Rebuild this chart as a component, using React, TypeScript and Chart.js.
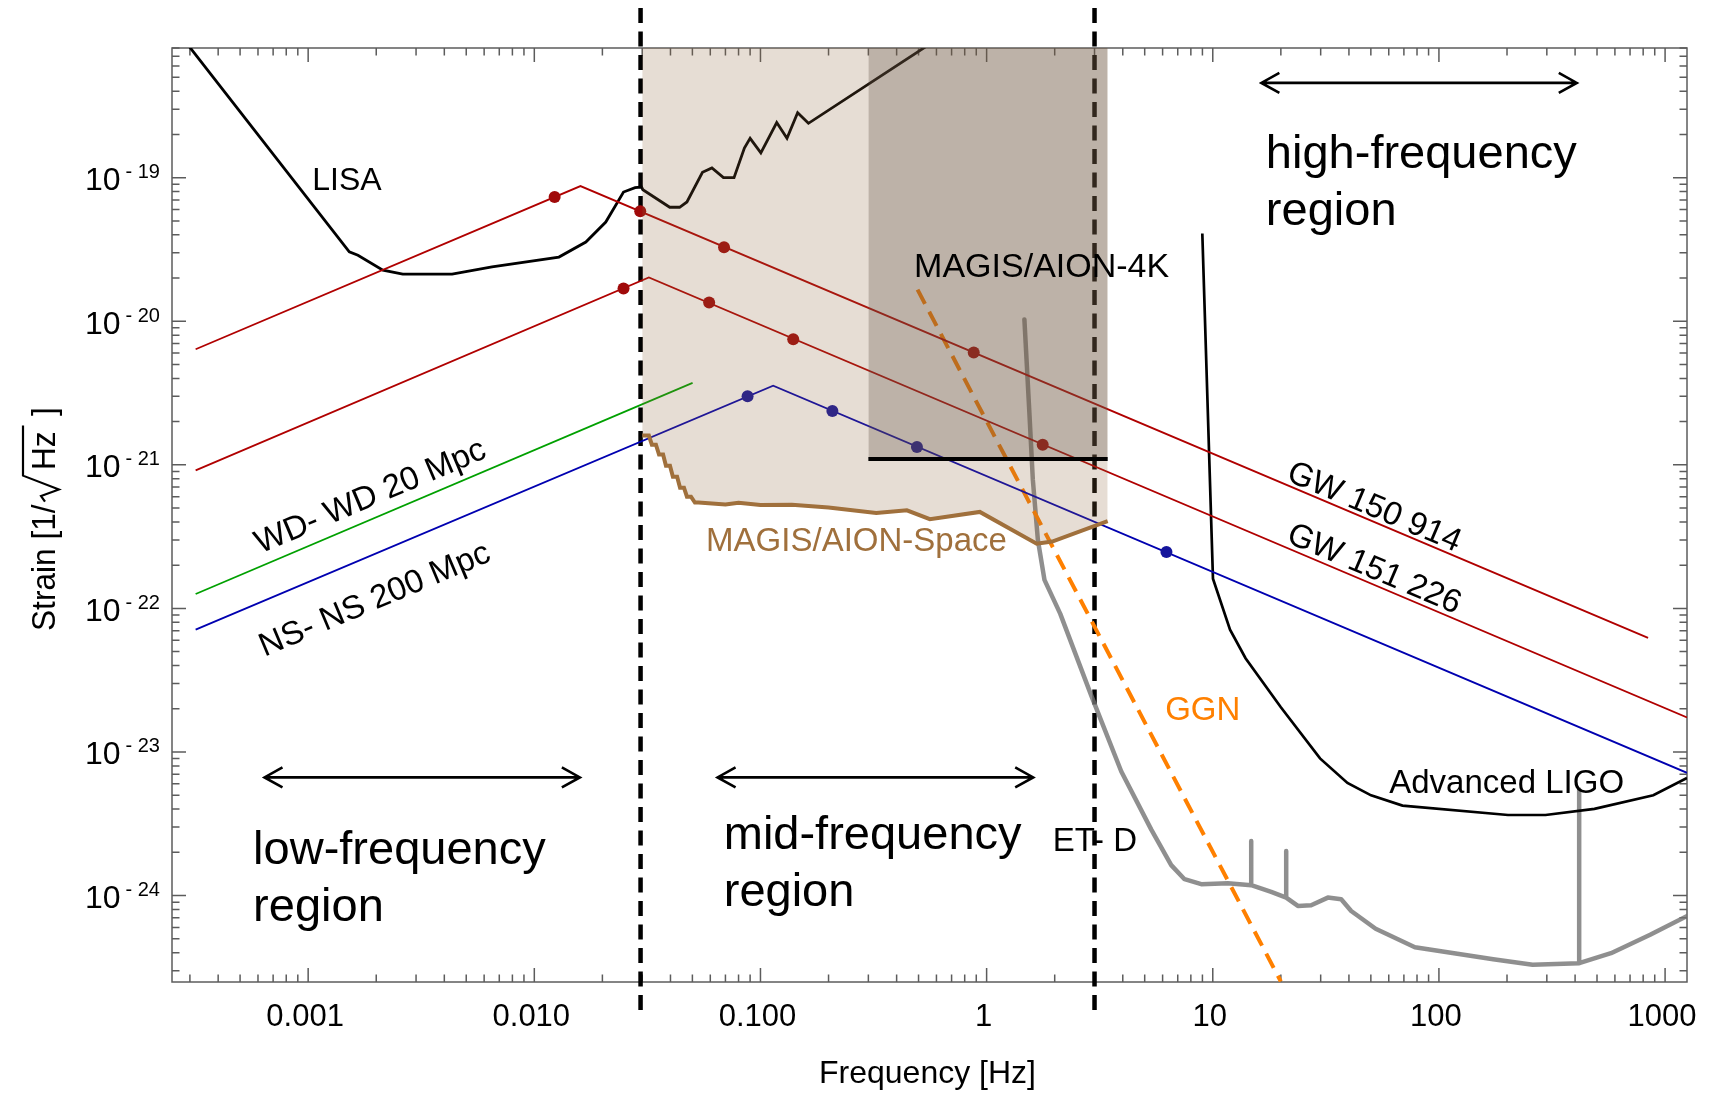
import React, { useEffect, useRef } from 'react';
import { Chart, registerables } from 'chart.js';

Chart.register(...registerables);

type Pt = [number, number];

// ---------- axes ----------
const frequencyRange: Pt = [2.5e-4, 1250];
const strainRange: Pt = [2.5e-25, 8e-19];
const frequencyTicks = [0.001, 0.01, 0.1, 1, 10, 100, 1000];
const frequencyTickLabels = ['0.001', '0.010', '0.100', '1', '10', '100', '1000'];
const strainTickExponents = [-19, -20, -21, -22, -23, -24];

// ---------- detector sensitivity curves ----------
const lisaCurve: Pt[] = [
  [2.96e-4, 8.3e-19], [1.52e-3, 3.04e-20], [1.66e-3, 2.88e-20], [2.14e-3, 2.27e-20],
  [2.62e-3, 2.13e-20], [4.33e-3, 2.13e-20], [6.5e-3, 2.39e-20], [0.01285, 2.8e-20],
  [0.0169, 3.56e-20], [0.0207, 4.91e-20], [0.0248, 7.94e-20], [0.0279, 8.53e-20],
  [0.0298, 8.6e-20], [0.0302, 8.24e-20], [0.0397, 6.22e-20], [0.0439, 6.22e-20],
  [0.0473, 6.77e-20], [0.0554, 1.09e-19], [0.061, 1.17e-19], [0.0686, 1.0e-19],
  [0.0764, 1.0e-19], [0.0849, 1.61e-19], [0.09, 1.88e-19], [0.1004, 1.49e-19],
  [0.118, 2.42e-19], [0.131, 1.88e-19], [0.146, 2.83e-19], [0.163, 2.39e-19],
  [0.54, 8.2e-19],
];

const advancedLigoCurve: Pt[] = [
  [8.99, 4.08e-20], [10.02, 1.61e-22], [11.92, 7.11e-23], [13.96, 4.5e-23],
  [20.0, 2.05e-23], [29.8, 9.02e-24], [39.4, 6.08e-24], [50.1, 4.99e-24],
  [69.0, 4.23e-24], [202, 3.64e-24], [296, 3.64e-24], [487, 4.02e-24],
  [887, 4.99e-24], [1250, 6.59e-24],
];

const etDCurve: Pt[] = [
  [1.469, 1.03e-20], [1.546, 2.28e-21], [1.601, 7.85e-22], [1.685, 3.0e-22],
  [1.802, 1.58e-22], [2.115, 9.2e-23], [2.9, 2.48e-23], [3.94, 7.31e-24],
  [5.34, 2.89e-24], [6.55, 1.63e-24], [7.5, 1.3e-24], [8.89, 1.2e-24],
  [11.66, 1.22e-24], [14.79, 1.18e-24], [14.79, 2.4e-24], [14.79, 1.18e-24],
  [18.13, 1.06e-24], [21.12, 9.68e-25], [21.12, 2.04e-24], [21.12, 9.68e-25],
  [23.78, 8.47e-25], [27.23, 8.56e-25], [32.28, 9.68e-25], [36.97, 9.42e-25],
  [40.93, 7.81e-25], [52.5, 5.87e-25], [78.3, 4.37e-25], [173.8, 3.6e-25],
  [259.5, 3.3e-25], [417, 3.38e-25], [417, 5.47e-24], [417, 3.38e-25],
  [576.6, 3.97e-25], [859, 5.33e-25], [1259, 7.24e-25],
];

const magisSpaceCurve: Pt[] = [
  [0.03, 1.6e-21], [0.0321, 1.6e-21], [0.0331, 1.38e-21], [0.0345, 1.38e-21],
  [0.0356, 1.18e-21], [0.0371, 1.18e-21], [0.0382, 9.86e-22], [0.0398, 9.86e-22],
  [0.041, 8.26e-22], [0.0428, 8.26e-22], [0.0441, 6.93e-22], [0.0459, 6.93e-22],
  [0.0473, 6.0e-22], [0.0493, 6.0e-22], [0.0513, 5.46e-22], [0.0532, 5.46e-22],
  [0.07, 5.3e-22], [0.08, 5.45e-22], [0.1, 5.25e-22], [0.1377, 5.28e-22],
  [0.2, 5.05e-22], [0.325, 4.61e-22], [0.444, 4.82e-22], [0.561, 4.18e-22],
  [0.933, 4.7e-22], [1.665, 2.82e-22], [1.95, 2.92e-22], [3.43, 4.05e-22],
];

const magis4kFloor: Pt[] = [[0.3, 1.1e-21], [3.43, 1.1e-21]];
const ggnLine: Pt[] = [[0.495, 1.66e-20], [20, 2.52e-25]];

// ---------- sources ----------
const gw150914Track: Pt[] = [[3.18e-4, 6.38e-21], [0.016, 8.74e-20], [841, 6.24e-23]];
const gw150914Dots: Pt[] = [[0.0123, 7.33e-20], [0.0294, 5.83e-20], [0.069, 3.27e-20], [0.877, 6.05e-21]];
const gw151226Track: Pt[] = [[3.18e-4, 9.14e-22], [0.0321, 2.02e-20], [1250, 1.74e-23]];
const gw151226Dots: Pt[] = [[0.0248, 1.69e-20], [0.0593, 1.35e-20], [0.1396, 7.5e-21], [1.77, 1.38e-21]];
const nsnsTrack: Pt[] = [[3.18e-4, 7.11e-23], [0.1138, 3.56e-21], [1250, 7.16e-24]];
const nsnsDots: Pt[] = [[0.0877, 3.0e-21], [0.208, 2.37e-21], [0.492, 1.33e-21], [6.24, 2.47e-22]];
const wdwdTrack: Pt[] = [[3.18e-4, 1.26e-22], [0.0501, 3.72e-21]];

// ---------- frequency-band boundaries & arrows ----------
const bandBoundaries = [0.0295, 3.0];
const bandBoundarySpan: Pt = [1.52e-18, 1.39e-25];
const regionArrows: [number, number, number][] = [
  [6.41e-4, 0.0159, 6.65e-24],
  [0.0646, 1.607, 6.65e-24],
  [16.4, 407, 4.57e-19],
];

// ---------- styling ----------
const FONT = '"Liberation Sans", Arial, Helvetica, sans-serif';
const RED = '#b00000';
const RED_DOT = '#a00a0a';
const BLUE = '#0000b0';
const BLUE_DOT = '#15159c';
const GREEN = '#00a000';
const BROWN = '#a0703c';
const ORANGE = '#ff8000';

const toXY = (pts: Pt[]) => pts.map(([x, y]) => ({ x, y }));

const lineDs = (label: string, pts: Pt[], color: string, width: number, extra: any = {}) => ({
  label,
  data: toXY(pts),
  showLine: true,
  borderColor: color,
  backgroundColor: color,
  borderWidth: width,
  pointRadius: 0,
  pointHoverRadius: 0,
  fill: false,
  tension: 0,
  ...extra,
});

const dotDs = (label: string, pts: Pt[], color: string) => ({
  label,
  data: toXY(pts),
  showLine: false,
  pointRadius: 6,
  pointHoverRadius: 6,
  pointBorderWidth: 0,
  pointBackgroundColor: color,
  backgroundColor: color,
  borderColor: color,
  fill: false,
});

const plainLabels: { text: string; at: Pt; color: string; size: number }[] = [
  { text: 'LISA', at: [1.042e-3, 8.16e-20], color: '#000', size: 32 },
  { text: 'MAGIS/AION-4K', at: [0.478, 2.03e-20], color: '#000', size: 34 },
  { text: 'MAGIS/AION-Space', at: [0.0575, 2.52e-22], color: BROWN, size: 33 },
  { text: 'GGN', at: [6.16, 1.67e-23], color: ORANGE, size: 33 },
  { text: 'ET- D', at: [1.96, 2.05e-24], color: '#000', size: 33 },
  { text: 'Advanced LIGO', at: [60.3, 5.2e-24], color: '#000', size: 33 },
];

const slantedLabels: { text: string; at: Pt; along: Pt[]; seg: [number, number] }[] = [
  { text: 'WD- WD 20 Mpc', at: [6.14e-4, 2.4e-22], along: wdwdTrack, seg: [0, 1] },
  { text: 'NS- NS 200 Mpc', at: [6.41e-4, 4.61e-23], along: nsnsTrack, seg: [0, 1] },
  { text: 'GW 150 914', at: [20.9, 7.85e-22], along: gw150914Track, seg: [1, 2] },
  { text: 'GW 151 226', at: [20.9, 2.91e-22], along: gw151226Track, seg: [1, 2] },
];

const regionLabels: { lines: string[]; at: Pt }[] = [
  { lines: ['low-frequency', 'region'], at: [5.71e-4, 1.65e-24] },
  { lines: ['mid-frequency', 'region'], at: [0.0688, 2.11e-24] },
  { lines: ['high-frequency', 'region'], at: [17.17, 1.17e-19] },
];

const decorPlugin = {
  id: 'decor',
  beforeDatasetsDraw(chart: any) {
    const { ctx, chartArea: a } = chart;
    const xs = chart.scales.x;
    const ys = chart.scales.y;
    ctx.save();
    ctx.strokeStyle = '#5c5c5c';
    ctx.lineWidth = 1.5;
    ctx.strokeRect(a.left, a.top, a.right - a.left, a.bottom - a.top);
    ctx.beginPath();
    for (let e = -5; e <= 4; e++) {
      for (let m = 1; m <= 9; m++) {
        const v = m * Math.pow(10, e);
        if (v < xs.min || v > xs.max) continue;
        const px = xs.getPixelForValue(v);
        const len = m === 1 ? 14 : 7.5;
        ctx.moveTo(px, a.bottom);
        ctx.lineTo(px, a.bottom - len);
        ctx.moveTo(px, a.top);
        ctx.lineTo(px, a.top + len);
      }
    }
    for (let e = -26; e <= -17; e++) {
      for (let m = 1; m <= 9; m++) {
        const v = m * Math.pow(10, e);
        if (v < ys.min || v > ys.max) continue;
        const py = ys.getPixelForValue(v);
        const len = m === 1 ? 14 : 7.5;
        ctx.moveTo(a.left, py);
        ctx.lineTo(a.left + len, py);
        ctx.moveTo(a.right, py);
        ctx.lineTo(a.right - len, py);
      }
    }
    ctx.stroke();
    ctx.restore();
  },
  afterDraw(chart: any) {
    const { ctx, chartArea: a } = chart;
    const xs = chart.scales.x;
    const ys = chart.scales.y;
    const X = (v: number) => xs.getPixelForValue(v);
    const Y = (v: number) => ys.getPixelForValue(v);
    ctx.save();
    ctx.textBaseline = 'alphabetic';

    // x tick labels
    ctx.fillStyle = '#000';
    ctx.font = `31px ${FONT}`;
    ctx.textAlign = 'center';
    frequencyTicks.forEach((v, i) => {
      ctx.fillText(frequencyTickLabels[i], X(v) - 3, a.bottom + 44);
    });

    // y tick labels 10^-n
    ctx.textAlign = 'left';
    strainTickExponents.forEach((e) => {
      const py = Y(Math.pow(10, e));
      ctx.font = `32px ${FONT}`;
      ctx.fillText('10', a.left - 87, py + 12.5);
      ctx.font = `20px ${FONT}`;
      ctx.fillText('- ' + String(-e), a.left - 46.5, py + 0.5);
    });

    // axis titles
    ctx.font = `32px ${FONT}`;
    ctx.textAlign = 'center';
    ctx.fillText('Frequency [Hz]', (a.left + a.right) / 2 - 2, a.bottom + 101);

    ctx.save();
    const startY = (a.top + a.bottom) / 2 + 116;
    ctx.translate(55, startY);
    ctx.rotate(-Math.PI / 2);
    ctx.scale(0.93, 1);
    ctx.textAlign = 'left';
    ctx.font = `34px ${FONT}`;
    const head = 'Strain [1/';
    ctx.fillText(head, 0, 0);
    const x0 = ctx.measureText(head).width + 3;
    ctx.strokeStyle = '#000';
    ctx.lineWidth = 2.2;
    ctx.lineJoin = 'miter';
    ctx.beginPath();
    ctx.moveTo(x0, -10);
    ctx.lineTo(x0 + 6, -14);
    ctx.lineTo(x0 + 13, 4);
    ctx.lineTo(x0 + 28, -32);
    ctx.lineTo(x0 + 82, -32);
    ctx.stroke();
    ctx.fillText('Hz', x0 + 34, 0);
    ctx.fillText(']', x0 + 92, 0);
    ctx.restore();

    // plain labels
    ctx.textAlign = 'left';
    plainLabels.forEach((l) => {
      ctx.font = `${l.size}px ${FONT}`;
      ctx.fillStyle = l.color;
      ctx.fillText(l.text, X(l.at[0]), Y(l.at[1]));
    });

    // slanted labels along tracks
    ctx.fillStyle = '#000';
    slantedLabels.forEach((l) => {
      const p1 = l.along[l.seg[0]];
      const p2 = l.along[l.seg[1]];
      const ang = Math.atan2(Y(p2[1]) - Y(p1[1]), X(p2[0]) - X(p1[0]));
      ctx.save();
      ctx.translate(X(l.at[0]), Y(l.at[1]));
      ctx.rotate(ang);
      ctx.font = `33px ${FONT}`;
      ctx.fillText(l.text, 0, 0);
      ctx.restore();
    });

    // region labels
    ctx.font = `47px ${FONT}`;
    regionLabels.forEach((r) => {
      r.lines.forEach((t, i) => ctx.fillText(t, X(r.at[0]), Y(r.at[1]) + i * 57));
    });

    // region arrows
    ctx.strokeStyle = '#000';
    ctx.lineWidth = 2.6;
    ctx.lineJoin = 'miter';
    regionArrows.forEach(([f1, f2, h]) => {
      const x1 = X(f1);
      const x2 = X(f2);
      const y = Y(h);
      ctx.beginPath();
      ctx.moveTo(x1, y);
      ctx.lineTo(x2, y);
      ctx.moveTo(x1 + 18, y - 10);
      ctx.lineTo(x1, y);
      ctx.lineTo(x1 + 18, y + 10);
      ctx.moveTo(x2 - 18, y - 10);
      ctx.lineTo(x2, y);
      ctx.lineTo(x2 - 18, y + 10);
      ctx.stroke();
    });
    ctx.restore();
  },
};

export default function App() {
  const ref = useRef<HTMLCanvasElement>(null);
  useEffect(() => {
    const canvas = ref.current;
    if (!canvas) return;
    const datasets: any[] = [
      lineDs('MAGIS/AION-4K', magis4kFloor, '#000', 4, { fill: 'end', backgroundColor: 'rgba(95,80,65,0.30)' }),
      lineDs('MAGIS/AION-Space', magisSpaceCurve, BROWN, 4, { fill: 'end', backgroundColor: 'rgba(140,100,60,0.22)' }),
      dotDs('GW150914 markers', gw150914Dots, RED_DOT),
      dotDs('GW151226 markers', gw151226Dots, RED_DOT),
      dotDs('NS-NS markers', nsnsDots, BLUE_DOT),
      lineDs('GW150914', gw150914Track, RED, 1.8),
      lineDs('GW151226', gw151226Track, RED, 1.8),
      lineDs('NS-NS 200 Mpc', nsnsTrack, BLUE, 1.8),
      lineDs('WD-WD 20 Mpc', wdwdTrack, GREEN, 1.8),
      lineDs('LISA', lisaCurve, '#000', 2.8),
      lineDs('Advanced LIGO', advancedLigoCurve, '#000', 2.7),
      lineDs('GGN', ggnLine, ORANGE, 4, { borderDash: [16, 9] }),
      lineDs('ET-D', etDCurve, 'rgba(115,115,115,0.8)', 4.5, { borderJoinStyle: 'round', borderCapStyle: 'round' }),
      ...bandBoundaries.map((f, i) =>
        lineDs('band edge ' + i, [[f, bandBoundarySpan[0]], [f, bandBoundarySpan[1]]], '#000', 4.5, {
          borderDash: [15, 8.5],
          clip: false,
        })
      ),
    ];
    const chart = new Chart(canvas, {
      type: 'line',
      data: { datasets },
      options: {
        responsive: false,
        animation: false,
        devicePixelRatio: 1,
        events: [],
        layout: { padding: { left: 0, top: 48, right: 28, bottom: 0 } },
        plugins: {
          legend: { display: false },
          tooltip: { enabled: false },
          filler: { propagate: false },
        },
        scales: {
          x: {
            type: 'logarithmic',
            min: frequencyRange[0],
            max: frequencyRange[1],
            bounds: 'data',
            grid: { display: false, drawTicks: false },
            border: { display: false },
            ticks: { display: false },
            afterFit: (s: any) => {
              s.height = 111;
            },
          },
          y: {
            type: 'logarithmic',
            min: strainRange[0],
            max: strainRange[1],
            bounds: 'data',
            grid: { display: false, drawTicks: false },
            border: { display: false },
            ticks: { display: false },
            afterFit: (s: any) => {
              s.width = 172;
            },
          },
        },
      } as any,
      plugins: [decorPlugin],
    });
    return () => chart.destroy();
  }, []);
  return (
    <div style={{ position: 'absolute', left: 0, top: 0, width: 1715, height: 1093, background: '#fff' }}>
      <canvas ref={ref} width={1715} height={1093} style={{ display: 'block' }} />
    </div>
  );
}
